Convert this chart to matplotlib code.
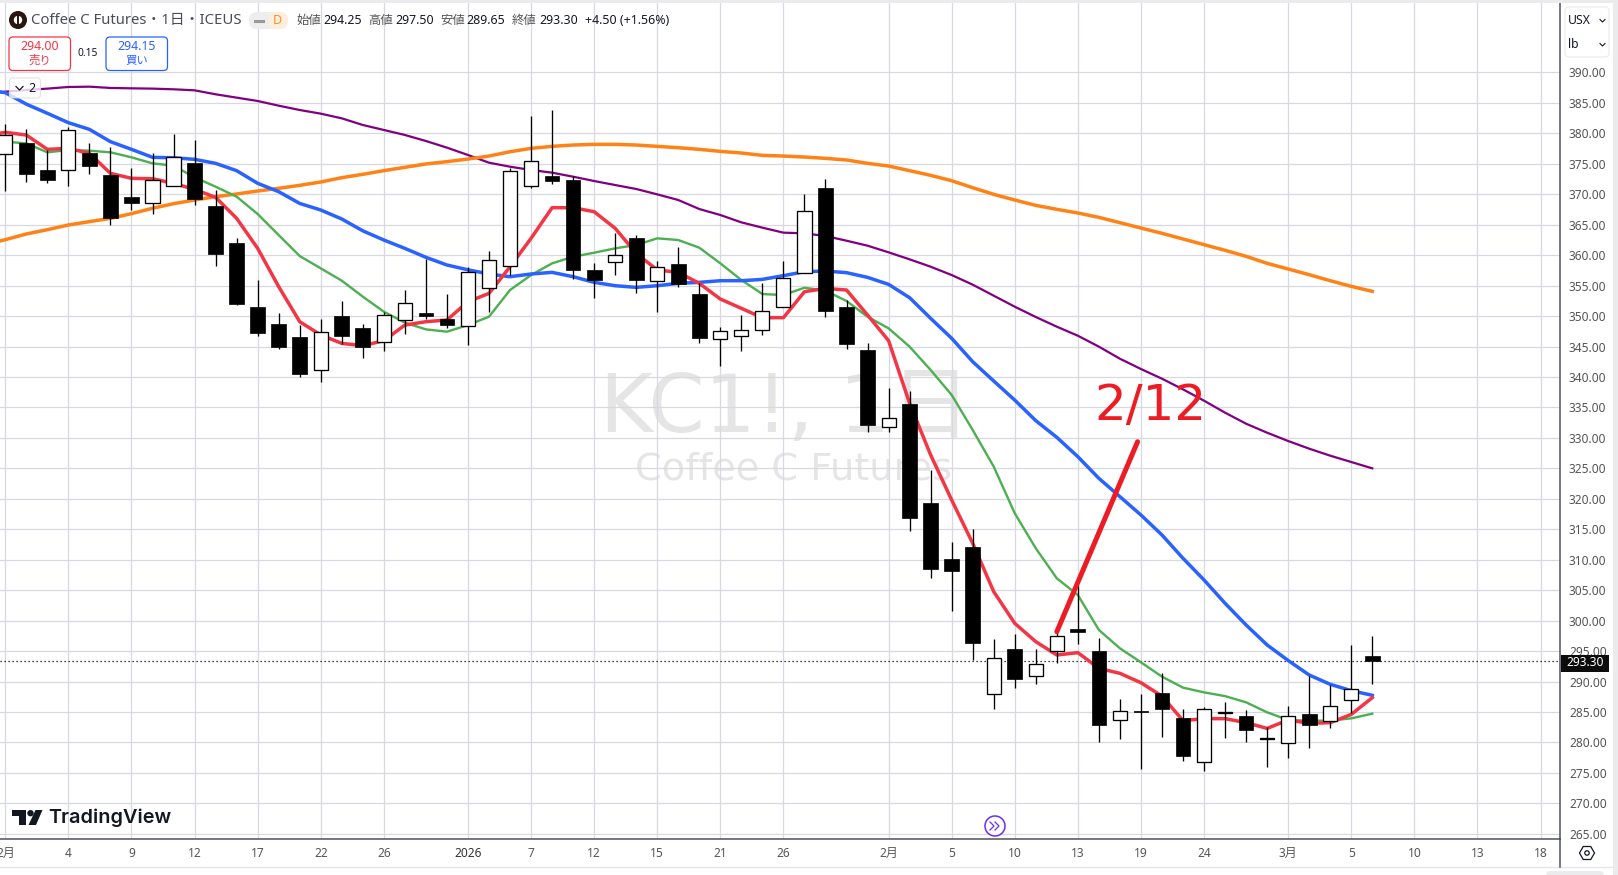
import numpy as np
import matplotlib
matplotlib.use("Agg")
import matplotlib.pyplot as plt
from matplotlib.patches import Rectangle, FancyBboxPatch, Circle, Polygon, RegularPolygon
from matplotlib.transforms import Bbox

UI_FONT = ['Noto Sans', 'Noto Sans CJK JP', 'DejaVu Sans']
plt.rcParams['font.family'] = UI_FONT

# ---------- data ----------
opens = [376.55,378.4,374.0,373.93,376.8,373.2,369.55,368.5,371.3,375.1,368.07,361.95,351.44,348.7,346.5,341.1,
         349.96,348.0,345.7,349.4,350.45,349.5,348.3,354.55,358.2,371.3,373.0,372.35,357.5,358.9,362.8,355.8,
         358.5,353.7,346.2,346.8,347.66,351.44,357.1,371.0,351.5,344.44,331.74,335.57,319.3,310.06,312.1,287.9,
         295.3,290.85,294.96,298.7,294.96,283.6,285.2,288.06,284.0,276.73,284.85,284.3,280.6,279.85,284.6,283.46,
         286.9,294.25]
closes = [379.7,373.4,372.4,380.5,374.7,366.16,368.62,372.3,376.2,369.2,360.25,352.04,347.28,344.9,340.55,347.33,
          346.8,344.9,350.1,352.1,350.05,348.6,357.2,359.26,373.8,375.4,372.2,357.6,356.0,360.1,356.0,358.0,
          355.2,346.45,347.5,347.66,350.8,356.2,367.2,350.8,345.5,332.12,333.2,316.9,308.53,308.2,296.4,293.8,
          290.47,292.8,297.4,298.2,282.9,285.1,285.0,285.54,277.8,285.43,284.95,282.1,280.75,284.4,282.9,286.0,
          288.7,293.3]
highs = [381.5,380.8,377.3,381.0,378.4,377.7,374.26,376.7,379.9,378.9,370.7,362.8,355.9,350.45,348.5,349.5,
         352.5,348.7,350.7,354.3,359.3,353.7,358.0,360.7,374.26,382.85,383.84,373.0,358.8,363.6,363.3,359.0,
         361.3,355.5,348.2,350.2,355.4,359.0,370.0,372.5,352.64,345.53,338.2,337.65,324.73,312.9,315.0,297.0,
         297.8,295.34,298.2,305.8,297.14,287.1,288.0,291.4,285.5,285.76,286.6,285.27,282.6,286.0,290.9,289.4,
         296.0,297.5]
lows = [370.6,372.07,371.8,371.4,373.4,365.0,367.4,366.8,371.3,368.3,358.3,351.9,346.8,344.65,340.05,339.1,
        345.5,343.2,344.3,347.1,349.6,348.05,345.3,350.7,356.7,371.1,371.74,356.1,352.9,356.7,353.84,350.7,
        354.7,345.63,341.86,344.3,346.9,351.44,357.1,349.9,344.65,331.0,331.0,314.77,307.05,301.6,293.53,285.54,
        289.0,289.65,293.0,296.2,280.1,280.6,275.7,280.94,277.0,275.36,280.8,280.1,276.0,277.5,279.0,282.4,
        284.8,289.65]

ma_red = [379.6,380.17,379.73,377.38,377.54,376.72,373.44,372.62,372.56,371.8,370.8,369.5,366.05,361.12,354.83,349.08,346.9,
          345.52,345.14,345.96,348.53,349.08,349.36,352.37,353.73,358.1,362.77,367.8,367.8,367.14,364.41,360.3,357.57,
          357.18,355.38,352.8,351.27,349.74,349.74,354.0,354.55,354.28,350.18,345.96,335.68,327.2,319.8,312.69,304.75,
          299.55,296.54,294.35,294.74,292.16,291.34,289.8,287.6,283.57,283.9,283.9,283.24,282.3,283.68,283.13,283.24,
          284.6,287.35]
ma_green = [378.9,378.64,378.36,376.89,377.27,377.16,376.89,376.07,375.08,374.7,372.78,371.25,369.61,366.76,363.3,359.86,357.84,
            355.81,353.19,350.72,348.92,347.82,347.44,348.53,349.9,354.28,356.74,358.66,359.75,360.41,361.12,361.67,362.77,
            362.49,361.23,358.66,355.92,353.62,353.46,354.66,354.17,352.48,349.9,347.99,344.98,341.15,337.05,331.3,325.28,
            317.62,311.87,306.94,304.2,298.46,295.45,293.15,290.8,288.99,288.22,287.6,286.58,284.94,283.68,283.57,283.57,
            283.95,284.72]
ma_blue = [387.2,386.69,384.8,383.3,381.76,380.66,378.64,377.38,376.07,376.0,375.74,375.08,373.88,371.8,370.43,368.5,367.42,
           365.94,364.0,362.49,361.12,359.65,358.39,357.6,356.91,356.47,356.91,357.18,356.47,355.54,354.99,354.72,354.99,
           355.38,355.54,355.81,355.81,356.03,356.64,357.29,357.4,357.13,356.36,355.21,353.02,349.63,346.35,342.51,339.34,
           336.2,332.83,330.09,326.91,323.36,320.35,317.34,314.06,310.23,306.67,302.84,299.28,296.0,293.45,291.07,289.54,
           288.5,287.73]
ma_purple = [386.3,386.85,387.13,387.35,387.62,387.67,387.46,387.4,387.35,387.24,387.07,386.42,385.87,385.32,384.55,383.84,383.24,
             382.47,381.38,380.56,379.74,378.75,377.66,376.45,375.19,374.53,373.99,373.55,372.89,372.18,371.52,370.87,369.99,
             369.06,367.58,366.6,365.39,364.52,363.7,363.59,363.15,362.38,361.56,360.47,359.32,358.11,356.74,355.16,353.35,
             351.54,349.85,348.26,346.78,344.98,343.0,341.31,339.72,337.97,336.11,334.14,332.33,330.85,329.49,328.23,327.08,
             326.04,325.0]
ma_orange = [361.7,362.55,363.48,364.19,364.96,365.51,366.05,366.82,367.7,368.46,369.06,369.61,370.05,370.54,370.98,371.47,372.02,
             372.73,373.28,373.88,374.43,374.98,375.36,375.79,376.28,376.99,377.54,377.87,378.09,378.2,378.2,378.09,377.87,
             377.65,377.38,377.05,376.78,376.39,376.28,376.12,375.9,375.63,375.08,374.64,373.88,373.11,372.23,371.08,369.99,
             369.06,368.18,367.53,366.93,366.21,365.34,364.46,363.59,362.66,361.73,360.8,359.81,358.66,357.73,356.8,355.81,
             354.88,354.06]

x_tick_pos = [0,3,6,9,12,15,18,22,25,28,31,34,37,42,45,48,51,54,57,61,64,67,70,73]
x_tick_lab = ['2月','4','9','12','17','22','26','2026','7','12','15','21','26','2月','5','10','13','19','24','3月','5','10','13','18']
y_ticks = list(range(265, 395, 5))
last_price = 293.30
note_x = [50.0, 53.84]
note_y = [298.18, 329.37]

GRID = '#d8d8e2'
TXT = '#555555'

# ---------- figure ----------
W, H = 1618, 875
fig = plt.figure(figsize=(W/100, H/100), dpi=100, facecolor='white')
ax = fig.add_axes([0, (H-839)/H, 1560.3/W, (839-3)/H], zorder=2)
ui = fig.add_axes([0, 0, 1, 1], zorder=5)
ui.set_xlim(0, W); ui.set_ylim(H, 0); ui.axis('off'); ui.patch.set_alpha(0)

ax.set_xlim(-0.252, 73.94)
ax.set_ylim(264.14, 401.41)
ax.set_axisbelow(True)
ax.grid(True, color=GRID, lw=0.9, zorder=0.5)
for s in ('top', 'left'):
    ax.spines[s].set_visible(False)
for s in ('right', 'bottom'):
    ax.spines[s].set_color('#50535e'); ax.spines[s].set_linewidth(1.1)

ax.yaxis.tick_right()
ax.set_yticks(y_ticks, [f'{v:.2f}' for v in y_ticks])
ax.tick_params(axis='y', length=0, pad=6.2, labelsize=8.6, labelcolor=TXT)
ax.set_xticks(x_tick_pos, x_tick_lab)
ax.tick_params(axis='x', length=0, pad=6.0, labelsize=8.6, labelcolor=TXT)
for lab, t in zip(ax.get_xticklabels(), x_tick_lab):
    if t == '2026':
        lab.set_fontweight('bold'); lab.set_color('#333333')
clipbox = Bbox([[1561, H-839], [W, H-3]])
for lab in ax.get_yticklabels():
    lab.set_clip_on(True); lab.set_clip_box(clipbox)

# watermark
ax.text(600, 431.7, 'KC1!, 1日', transform=ui.transData, fontsize=58, color='#e5e5e5', zorder=0.4,
        family=['DejaVu Sans', 'Noto Sans CJK JP'], va='baseline', ha='left')
ax.text(635, 479, 'Coffee C Futures', transform=ui.transData, fontsize=27.5, color='#e5e5e5', zorder=0.4,
        family=['DejaVu Sans'], va='baseline', ha='left')

# moving averages
xs_ma = np.arange(-1, 66)
ax.axhline(last_price, color='black', lw=0.9, ls=(0, (1, 2.2)), zorder=2.5)
ax.plot(xs_ma, ma_purple, color='#800080', lw=1.6, zorder=3)
ax.plot(xs_ma, ma_orange, color='#ff8216', lw=2.5, zorder=3)
ax.plot(xs_ma, ma_green, color='#4caf50', lw=1.7, zorder=3)
ax.plot(xs_ma, ma_blue, color='#2962ff', lw=2.5, zorder=3)
ax.plot(xs_ma, ma_red, color='#f23645', lw=2.5, zorder=3)

# candles
xs = np.arange(len(opens))
o, c = np.array(opens), np.array(closes)
ax.vlines(xs, lows, highs, color='black', lw=0.95, zorder=4)
up = c >= o
ax.bar(xs[up], (c-o)[up], bottom=o[up], width=0.67, facecolor='white', edgecolor='black', linewidth=0.95, zorder=5)
ax.bar(xs[~up], (c-o)[~up], bottom=o[~up], width=0.7, facecolor='black', edgecolor='black', linewidth=0.5, zorder=5)

# annotation
ax.plot(note_x, note_y, color='#ed1c24', lw=3.6, solid_capstyle='round', zorder=6)
ax.text(54.43, 333.0, '2/12', color='#ed1c24', fontsize=36, family=['DejaVu Sans'], ha='center', va='baseline', zorder=6)

# ---------- chrome ----------
ui.add_patch(Rectangle((0, 0), W, 3, fc='#ebebee', ec='none'))
ui.add_patch(Rectangle((1613, 0), 5, H, fc='#ebebee', ec='none'))
ui.plot([0, 1613], [867, 867], color='#e6e6ea', lw=1)
ui.plot([1560.3, 1560.3], [839, 867], color='#50535e', lw=1.1)
ui.add_patch(FancyBboxPatch((1546, 871), 58, 10, boxstyle='round,pad=0,rounding_size=5', fc='#ebebee', ec='none', clip_on=True))

# logo + title
ui.add_patch(Circle((18, 20), 9, fc='#2a1510', ec='none'))
ui.add_patch(Circle((18, 20), 4.2, fc='white', ec='none'))
ui.plot([18, 18], [15, 25], color='#2a1510', lw=1.4)
ui.text(31, 20.5, 'Coffee C Futures・1日・ICEUS', fontsize=10.7, color='#4a4d57', va='center', ha='left', family=UI_FONT)
ui.add_patch(FancyBboxPatch((249, 12), 39, 17, boxstyle='round,pad=0,rounding_size=8.5', fc='#eeeeee', ec='none'))
ui.add_patch(FancyBboxPatch((268, 12), 20, 17, boxstyle='round,pad=0,rounding_size=8.5', fc='#fdeedd', ec='none'))
ui.plot([255, 263], [20.5, 20.5], color='#9a9a9a', lw=2.2)
ui.text(277, 20.5, 'D', fontsize=9, color='#f7931a', va='center', ha='center', fontweight='bold')
for x, s, col in [(297, '始値', '#555555'), (323, '294.25', '#131722'), (368, '高値', '#555555'), (395.5, '297.50', '#131722'),
                  (440, '安値', '#555555'), (466.5, '289.65', '#131722'), (512, '終値', '#555555'), (539, '293.30', '#131722'),
                  (585, '+4.50 (+1.56%)', '#131722')]:
    ui.text(x, 20.5, s, fontsize=8.9, color=col, va='center', ha='left')

# buy / sell buttons
for x0, col, price, lab in [(9, '#f23645', '294.00', '売り'), (106, '#2962ff', '294.15', '買い')]:
    ui.add_patch(FancyBboxPatch((x0, 37), 61.5, 33.5, boxstyle='round,pad=0,rounding_size=4', fc='white', ec=col, lw=0.9))
    ui.text(x0+30.7, 47, price, color=col, fontsize=8.9, ha='center', va='center', fontweight='semibold')
    ui.text(x0+30.7, 61, lab, color=col, fontsize=8.2, ha='center', va='center')
ui.text(88, 54, '0.15', color='#131722', fontsize=7.4, ha='center', va='center')

# indicators collapse box
ui.add_patch(FancyBboxPatch((9.5, 78), 31, 20, boxstyle='round,pad=0,rounding_size=3', fc='white', alpha=0.8, ec='#dcdcdc', lw=0.8))
ui.plot([16, 19.5, 23], [86.5, 90, 86.5], color='#131722', lw=0.9)
ui.text(32, 88, '2', fontsize=9, color='#131722', ha='center', va='center')

# currency / unit selector
ui.add_patch(FancyBboxPatch((1565, 7), 44, 50, boxstyle='round,pad=0,rounding_size=4', fc='white', ec='#ebebeb', lw=0.8))
ui.text(1568, 20, 'USX', fontsize=8.8, color='#131722', va='center', ha='left')
ui.text(1568, 44, 'lb', fontsize=8.8, color='#131722', va='center', ha='left')
for y in (20.5, 44.5):
    ui.plot([1600, 1602.5, 1605], [y-1, y+1.5, y-1], color='#131722', lw=0.8)

# last price tag
ui.add_patch(Rectangle((1561, 654.5), 48.5, 17, fc='#0c0c0c', ec='none'))
ui.text(1585.5, 663, '293.30', fontsize=8.6, color='white', ha='center', va='center', fontweight='bold')

# TradingView logo
DK = '#131722'
ui.add_patch(Polygon([(12.5, 810), (26.5, 810), (26.5, 825), (19.5, 825), (19.5, 816), (12.5, 816)], fc=DK, ec='none'))
ui.add_patch(Circle((30.5, 813.2), 3.2, fc=DK, ec='none'))
ui.add_patch(Polygon([(35.5, 810), (42.5, 810), (36, 825), (28.5, 825)], fc=DK, ec='none'))
ui.text(48, 818, 'TradingView', fontsize=14.3, color=DK, fontweight='semibold', family=['Inter', 'Noto Sans'], ha='left', va='center')

# go-to-realtime icon
PUR = '#6a2cf5'
ui.add_patch(Circle((995, 826), 10, fc='white', ec=PUR, lw=1.1))
ui.plot([990, 994, 990], [822, 826, 830], color=PUR, lw=0.9)
ui.plot([995, 999, 995], [822, 826, 830], color=PUR, lw=0.9)

# settings icon
ui.add_patch(RegularPolygon((1587, 853), 6, radius=7.5, orientation=np.pi/6, fc='white', ec='#131722', lw=0.9))
ui.add_patch(Circle((1587, 853), 2.2, fc='white', ec='#131722', lw=0.9))

fig.savefig('out.png', dpi=100, facecolor='white')
